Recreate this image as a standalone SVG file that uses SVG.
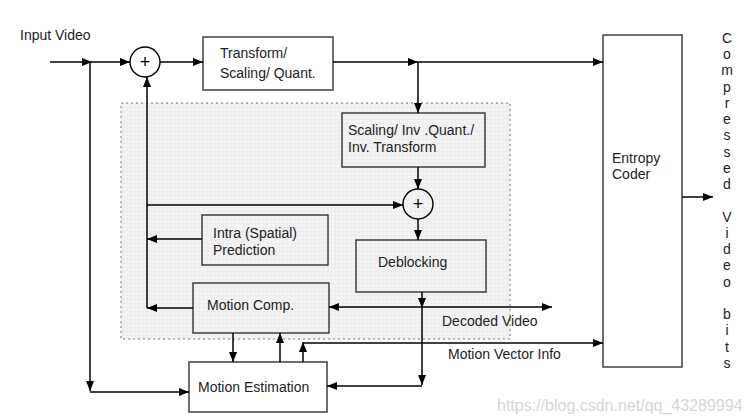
<svg xmlns="http://www.w3.org/2000/svg" width="752" height="419" viewBox="0 0 752 419">
<defs>
<marker id="ah" markerWidth="10" markerHeight="8" refX="10" refY="4" orient="auto" markerUnits="userSpaceOnUse">
<path d="M0,0 L10,4 L0,8 z" fill="#000"/>
</marker>
<pattern id="grid" width="4" height="4" patternUnits="userSpaceOnUse">
<rect width="4" height="4" fill="#f3f3f3"/>
<path d="M4,0 V4 M0,4 H4" stroke="#e3e3e3" stroke-width="0.6" fill="none"/>
</pattern>
<style>
text{font-family:"Liberation Sans",Arial,sans-serif;font-size:14px;fill:#222}
.box{fill:#fff;stroke:#333;stroke-width:1.4}
.ibox{fill:none;stroke:#333;stroke-width:1.4}
.c{fill:none;stroke:#000;stroke-width:1.4}
.ln{fill:none;stroke:#000;stroke-width:1.5;marker-end:url(#ah)}
.v{text-anchor:middle}
.plus{text-anchor:middle;font-size:18px;fill:#000}
</style>
</defs>
<rect width="752" height="419" fill="#fff"/>
<g id="region">
<rect x="121" y="103" width="389" height="236" fill="url(#grid)" stroke="#777" stroke-width="1" stroke-dasharray="2 3"/>
</g>
<g id="input-label"><text x="20" y="40">Input Video</text></g>
<g id="sum1"><circle cx="145" cy="62" r="15" class="c" fill="#fff"/><text x="145" y="68" class="plus">+</text></g>
<g id="transform"><rect x="203" y="37" width="130" height="53" class="box"/><text x="220" y="58">Transform/</text><text x="220" y="78">Scaling/ Quant.</text></g>
<g id="inv-transform"><rect x="342" y="113" width="143" height="54" class="ibox"/><text x="348" y="135">Scaling/ Inv .Quant./</text><text x="348" y="152">Inv. Transform</text></g>
<g id="sum2"><circle cx="418" cy="204" r="15" class="c"/><text x="418" y="210" class="plus">+</text></g>
<g id="intra"><rect x="202" y="215" width="126" height="50" class="ibox"/><text x="213" y="238">Intra (Spatial)</text><text x="213" y="255">Prediction</text></g>
<g id="deblocking"><rect x="356" y="240" width="130" height="52" class="ibox"/><text x="378" y="267">Deblocking</text></g>
<g id="motion-comp"><rect x="193" y="283" width="136" height="50" class="ibox"/><text x="207" y="310">Motion Comp.</text></g>
<g id="motion-est"><rect x="189" y="362" width="138" height="50" class="box"/><text x="198" y="392">Motion Estimation</text></g>
<g id="entropy"><rect x="603" y="35" width="79" height="332" class="box"/><text x="612" y="163">Entropy</text><text x="612" y="179">Coder</text></g>
<g id="output-label">
<text x="727" y="43" class="v">C</text>
<text x="727" y="59" class="v">o</text>
<text x="727" y="75" class="v">m</text>
<text x="727" y="92" class="v">p</text>
<text x="727" y="108" class="v">r</text>
<text x="727" y="124" class="v">e</text>
<text x="727" y="140" class="v">s</text>
<text x="727" y="157" class="v">s</text>
<text x="727" y="173" class="v">e</text>
<text x="727" y="189" class="v">d</text>
<text x="727" y="222" class="v">V</text>
<text x="727" y="238" class="v">i</text>
<text x="727" y="254" class="v">d</text>
<text x="727" y="270" class="v">e</text>
<text x="727" y="287" class="v">o</text>
<text x="727" y="319" class="v">b</text>
<text x="727" y="335" class="v">i</text>
<text x="727" y="352" class="v">t</text>
<text x="727" y="368" class="v">s</text>
</g>
<g id="connectors">
<path class="ln" d="M50,62 H92"/>
<path class="ln" d="M92,62 H130"/>
<path class="ln" d="M90,62 V391"/>
<path class="ln" d="M90,392 H189"/>
<path class="ln" d="M160,62 H203"/>
<path class="ln" d="M333,62 H418"/>
<path class="ln" d="M418,62 H603"/>
<path class="ln" d="M418,62 V113"/>
<path class="ln" d="M418,167 V189"/>
<path class="ln" d="M147,205 H403"/>
<path class="ln" d="M147,308 V77"/>
<path class="ln" d="M202,239 H147"/>
<path class="ln" d="M193,308 H147"/>
<path class="ln" d="M418,219 V240"/>
<path class="ln" d="M422,292 V308"/>
<path class="ln" d="M422,308 V385"/>
<path class="ln" d="M422,386 H327"/>
<path class="ln" d="M422,307 H329"/>
<path class="ln" d="M422,307 H552"/>
<path class="ln" d="M233,333 V362"/>
<path class="ln" d="M280,362 V333"/>
<path class="ln" d="M303,362 V342"/>
<path class="ln" d="M303,343 H603"/>
<path class="ln" d="M682,197 H713"/>
</g>
<g id="labels">
<text x="442" y="326">Decoded Video</text>
<text x="448" y="359">Motion Vector Info</text>
</g>
<g id="watermark"><text x="497" y="411" style="font-size:16px;fill:#d6d6d6">https://blog.csdn.net/qq_43289994</text></g>
</svg>
